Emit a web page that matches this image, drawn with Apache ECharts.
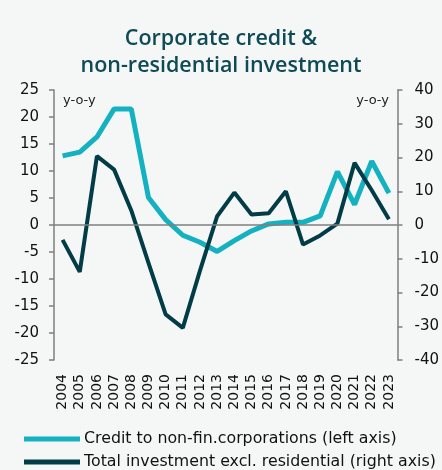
<!DOCTYPE html>
<html>
<head>
<meta charset="utf-8">
<script src="https://cdn.jsdelivr.net/npm/echarts@6/dist/echarts.min.js"></script>
<style>
  html, body { margin: 0; padding: 0; background: #f5f7f7; }
  #chart { width: 442px; height: 470px; }
</style>
</head>
<body>
<div id="chart"></div>
<script>
// Years on the category axis
const years = ['2004','2005','2006','2007','2008','2009','2010','2011','2012','2013',
               '2014','2015','2016','2017','2018','2019','2020','2021','2022','2023'];

// Credit to non-financial corporations, y-o-y % (left axis)
const creditNFC = [12.8, 13.5, 16.3, 21.5, 21.5, 5.1, 1.0, -1.9, -3.2, -4.9,
                   -2.9, -1.1, 0.2, 0.5, 0.5, 1.7, 9.9, 3.8, 11.8, 5.9];

// Total investment excluding residential, y-o-y % (right axis)
const investNonRes = [-4.4, -13.9, 20.4, 16.4, 4.3, -11.2, -26.5, -30.5, -13.5, 2.6,
                      9.6, 3.1, 3.5, 10.0, -5.8, -3.1, 0.4, 18.4, 10.3, 1.7];

// Axis ranges and tick steps
const leftAxis = { min: -25, max: 25, step: 5 };
const rightAxis = { min: -40, max: 40, step: 10 };

const seriesNames = ['Credit to non-fin.corporations (left axis)',
                     'Total investment excl. residential (right axis)'];

const FONT = 'DejaVu Sans';
const teal = '#14b1c1';
const dark = '#023d47';
const axisGrey = '#7f7f7f';
const textColor = '#111';

const chart = echarts.init(document.getElementById('chart'), null, { renderer: 'canvas' });

function legendRow(name, top) {
  return {
    orient: 'horizontal',
    left: 24,
    top: top,
    itemWidth: 56,
    itemHeight: 5,
    icon: 'rect',
    padding: 0,
    textStyle: { fontFamily: FONT, fontSize: 15.8, color: textColor, padding: [0, 0, 0, -1] },
    data: [name]
  };
}

chart.setOption({
  backgroundColor: '#f5f7f7',
  animation: false,
  textStyle: { fontFamily: FONT },
  title: {
    text: 'Corporate credit &\nnon-residential investment',
    left: 'center',
    top: 20,
    textStyle: { fontFamily: 'Open Sans', fontSize: 21.5, fontWeight: 600, color: '#0f4b55', lineHeight: 27 }
  },
  grid: { left: 54, right: 44, top: 90, bottom: 110 },
  legend: [legendRow(seriesNames[0], 431), legendRow(seriesNames[1], 454)],
  xAxis: {
    type: 'category',
    data: years,
    boundaryGap: true,
    axisLine: { show: false, onZero: false },
    axisTick: { show: false },
    axisLabel: { interval: 0, rotate: 90, fontFamily: FONT, fontSize: 14, color: textColor, margin: 14 }
  },
  yAxis: [
    {
      type: 'value',
      min: leftAxis.min, max: leftAxis.max, interval: leftAxis.step,
      axisLine: { show: true, lineStyle: { color: axisGrey, width: 1.5 } },
      axisTick: { show: true, length: 5, lineStyle: { color: axisGrey, width: 1.5 } },
      splitLine: { show: false },
      axisLabel: { fontFamily: FONT, fontSize: 15, color: textColor, margin: 15 }
    },
    {
      type: 'value',
      min: rightAxis.min, max: rightAxis.max, interval: rightAxis.step,
      position: 'right',
      axisLine: { show: true, lineStyle: { color: axisGrey, width: 1.5 } },
      axisTick: { show: true, length: 5, lineStyle: { color: axisGrey, width: 1.5 } },
      splitLine: { show: false },
      axisLabel: { fontFamily: FONT, fontSize: 15, color: textColor, margin: 17 }
    }
  ],
  graphic: [
    { type: 'text', left: 63, top: 94, style: { text: 'y-o-y', font: '13px "DejaVu Sans"', fill: '#222' } },
    { type: 'text', right: 53, top: 94, style: { text: 'y-o-y', font: '13px "DejaVu Sans"', fill: '#222' } }
  ],
  series: [
    {
      name: seriesNames[0],
      type: 'line',
      yAxisIndex: 0,
      data: creditNFC,
      symbol: 'none',
      lineStyle: { color: teal, width: 5 },
      itemStyle: { color: teal },
      z: 3,
      markLine: {
        silent: true,
        symbol: 'none',
        label: { show: false },
        lineStyle: { color: axisGrey, width: 1.5, type: 'solid' },
        data: [{ yAxis: 0 }]
      }
    },
    {
      name: seriesNames[1],
      type: 'line',
      yAxisIndex: 1,
      data: investNonRes,
      symbol: 'none',
      lineStyle: { color: dark, width: 4 },
      itemStyle: { color: dark },
      z: 4
    }
  ]
});
</script>
</body>
</html>
